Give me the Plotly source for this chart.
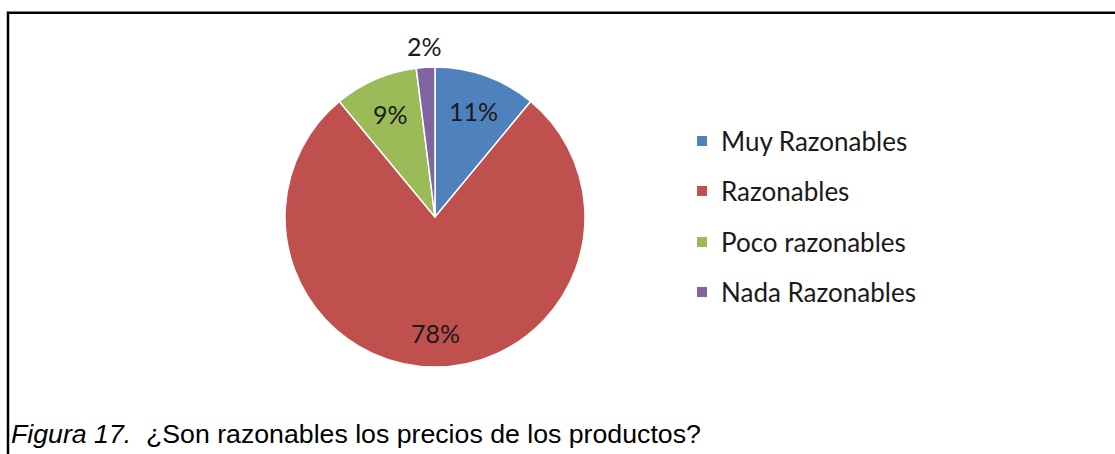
import math
import plotly.graph_objects as go

# Survey answers: are product prices reasonable?
categories = ["Muy Razonables", "Razonables", "Poco razonables", "Nada Razonables"]
shares = [11, 78, 9, 2]
colors = ["#4F81BD", "#C0504D", "#9BBB59", "#8064A2"]
label_radius = [0.75, 0.77, 0.75, 1.14]   # label distance as a fraction of the pie radius
caption_label = "Figura 17."
caption_text = "¿Son razonables los precios de los productos?"

W, H = 1115, 454
CX, CY, R = 435, 217, 150   # pie centre and radius in pixels


def px(x):
    return x / W


def py(y):
    return 1 - y / H


fig = go.Figure()

fig.add_trace(go.Pie(
    labels=categories,
    values=shares,
    sort=False,
    direction="clockwise",
    rotation=0,
    marker=dict(colors=colors, line=dict(color="white", width=1.5)),
    textinfo="none",
    domain=dict(x=[px(CX - R), px(CX + R)], y=[py(CY + R), py(CY - R)]),
    showlegend=False,
    hoverinfo="label+percent",
))

# Percentage labels placed at each slice's mid-angle (clockwise from 12 o'clock)
total = sum(shares)
cum = 0
for v, rf in zip(shares, label_radius):
    mid = (cum + v / 2) / total * 2 * math.pi
    cum += v
    lx = CX + rf * R * math.sin(mid)
    ly = CY - rf * R * math.cos(mid)
    fig.add_annotation(x=px(lx), y=py(ly), xref="paper", yref="paper",
                       text=f"{round(v / total * 100)}%", showarrow=False,
                       xanchor="center", yanchor="middle",
                       font=dict(family="Lato", size=25, color="#1a1a1a"))

# Legend: colour swatch plus category name for each slice
legend_rows = [141, 191, 242, 292]
for name, col, yc in zip(categories, colors, legend_rows):
    fig.add_shape(type="rect", xref="paper", yref="paper",
                  x0=px(697), x1=px(707), y0=py(yc + 5), y1=py(yc - 5),
                  fillcolor=col, line=dict(width=0))
    fig.add_annotation(x=px(719), y=py(yc), xref="paper", yref="paper",
                       text=name, showarrow=False, xanchor="left", yanchor="middle",
                       font=dict(family="Lato", size=26, color="#1a1a1a"))

# Frame lines (top and left)
fig.add_shape(type="path", xref="paper", yref="paper",
              path=f"M {px(8)},{py(460)} L {px(8)},{py(12.8)} L {px(1120)},{py(12.8)}",
              line=dict(color="black", width=2.5))

# Caption
fig.add_annotation(x=px(9), y=py(434), xref="paper", yref="paper",
                   text=f"<i>{caption_label}</i>\u00a0\u00a0{caption_text}",
                   showarrow=False, xanchor="left", yanchor="middle",
                   font=dict(family="Liberation Sans", size=26.7, color="black"))

fig.update_layout(
    width=W, height=H,
    margin=dict(l=0, r=0, t=0, b=0),
    paper_bgcolor="white",
    plot_bgcolor="white",
)

fig.write_html("out.html")
